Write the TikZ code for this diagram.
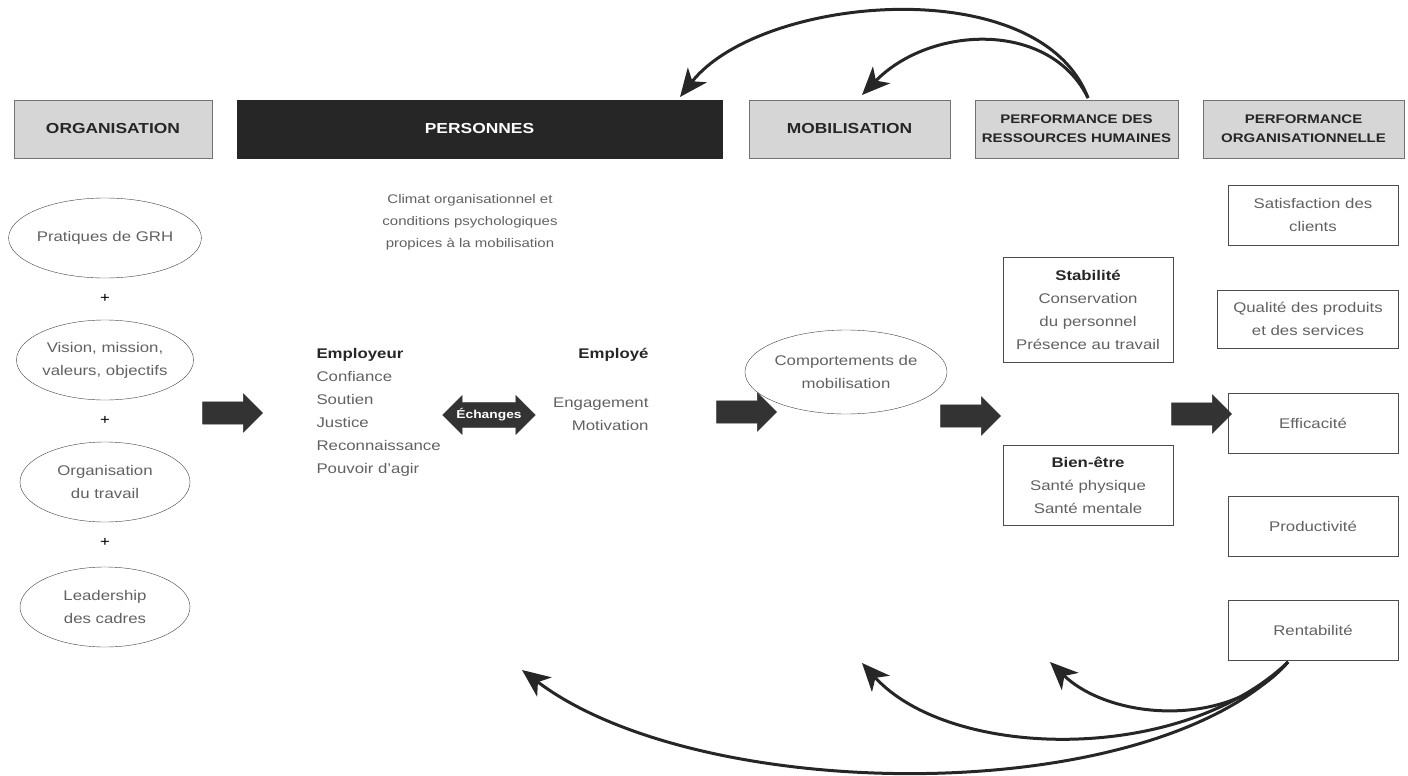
\documentclass[tikz,border=0pt]{standalone}
\usepackage{fontspec}
\setmainfont{Liberation Sans}[FakeStretch=1.2]
\usetikzlibrary{arrows.meta,shapes.geometric,shapes.arrows}
\definecolor{hdrgray}{gray}{0.84}
\definecolor{inkgray}{gray}{0.38}
\tikzstyle{hdr}=[rectangle, draw=black!55, fill=hdrgray, minimum height=58pt, inner sep=2pt, align=center, text=black!85, font=\fontsize{14.5}{18}\selectfont\bfseries]
\tikzstyle{darkhdr}=[hdr, fill=black!85, draw=black!85, text=white]
\tikzstyle{bubble}=[ellipse, draw=black!75, minimum width=170pt, minimum height=80pt, inner sep=0pt, align=center, text=inkgray]
\tikzstyle{resbox}=[rectangle, draw=black!70, minimum width=170pt, minimum height=60pt, align=center, text=inkgray]
\tikzstyle{fatarrow}=[single arrow, fill=black!80, draw=black!80, minimum height=60pt, inner xsep=0pt, inner ysep=11pt, single arrow head extend=8pt]
\tikzstyle{feedback}=[line width=3pt, draw=black!85, -{Stealth[length=28pt, width=24pt, inset=8pt]}]
\newcommand{\hdr}{\node[hdr]}
\newcommand{\bubble}{\node[bubble]}
\newcommand{\resbox}{\node[resbox]}
\newcommand{\fatarrow}{\node[fatarrow]}

\begin{document}
\begin{tikzpicture}[x=1pt, y=-1pt, every node/.append style={font=\fontsize{14}{23}\selectfont}]
\useasboundingbox (0,0) rectangle (1408,776);
% headers
\hdr (org) at (113,129) [minimum width=198pt] {ORGANISATION};
\hdr (pers) at (479.5,129) [darkhdr, minimum width=485pt] {PERSONNES};
\hdr (mob) at (849.5,129) [minimum width=201pt] {MOBILISATION};
\hdr (perfrh) at (1076.5,129) [minimum width=203pt, font=\fontsize{12.5}{19}\selectfont\bfseries] {PERFORMANCE DES\\RESSOURCES HUMAINES};
\hdr (perforg) at (1303.5,129) [minimum width=201pt, font=\fontsize{12.5}{19}\selectfont\bfseries] {PERFORMANCE\\ORGANISATIONNELLE};
% organisation
\bubble (grh) at (105,238) {Pratiques de GRH};
\node (plus1) at (105,298) {+};
\bubble (vision) at (105,360) {Vision, mission,\\valeurs, objectifs};
\node (plus2) at (105,420) {+};
\bubble (travail) at (105,482) {Organisation\\du travail};
\node (plus3) at (105,542) {+};
\bubble (leader) at (105,607) {Leadership\\des cadres};
% personnes
\node (climat) at (470,222) [align=center, text=inkgray, font=\fontsize{12.5}{22}\selectfont] {Climat organisationnel et\\conditions psychologiques\\propices à la mobilisation};
\node (employeur) at (313,412) [anchor=west, align=left, text=inkgray] {\textcolor{black!85}{\bfseries Employeur}\\Confiance\\Soutien\\Justice\\Reconnaissance\\Pouvoir d'agir};
\node (echanges) at (489,415) [double arrow, fill=black!80, draw=black!80, double arrow head extend=7pt, inner xsep=1pt, inner ysep=6pt, text=white, font=\fontsize{11.5}{13}\selectfont\bfseries] {Échanges};
\node (employe) at (652,355) [anchor=east, text=black!85, font=\fontsize{14}{23}\selectfont\bfseries] {Employé};
\node (engage) at (652,414) [anchor=east, align=right, text=inkgray] {Engagement\\Motivation};
% mobilisation
\bubble (compo) at (846,372) [minimum width=162pt, minimum height=84pt] {Comportements de\\mobilisation};
% performance RH
\resbox (stable) at (1088,310) [minimum height=105pt] {\textcolor{black!85}{\bfseries Stabilité}\\Conservation\\du personnel\\Présence au travail};
\resbox (bienetre) at (1088,485) [minimum height=80pt] {\textcolor{black!85}{\bfseries Bien-être}\\Santé physique\\Santé mentale};
% performance organisationnelle
\resbox (clients) at (1313,215) {Satisfaction des\\clients};
\resbox (qualite) at (1308,319) [minimum width=181pt, minimum height=58pt] {Qualité des produits\\et des services};
\resbox (efficacite) at (1313,423) {Efficacité};
\resbox (productivite) at (1313,526) {Productivité};
\resbox (rentabilite) at (1313,630) {Rentabilité};
% big arrows
\fatarrow (a1) at (227,413) {};
\fatarrow (a2) at (741,412) {};
\fatarrow (a3) at (965,416) {};
\fatarrow (a4) at (1196,414) {};
% feedback loops
\coordinate (fbtop) at (1088,98);
\coordinate (backpers) at (680,97);
\coordinate (backmob) at (862,95);
\coordinate (fbbot) at (1288,662);
\coordinate (backrh) at (1050,662);
\coordinate (backmob2) at (862,663);
\coordinate (backpers2) at (522,670);
\draw[feedback] (fbtop) .. controls (1040,-30) and (760,-5) .. (backpers);
\draw[feedback] (fbtop) .. controls (1050,20) and (930,25) .. (backmob);
\draw[feedback] (fbbot) .. controls (1230,730) and (1110,720) .. (backrh);
\draw[feedback] (fbbot) .. controls (1180,765) and (950,760) .. (backmob2);
\draw[feedback] (fbbot) .. controls (1150,810) and (700,805) .. (backpers2);
\end{tikzpicture}
\end{document}
